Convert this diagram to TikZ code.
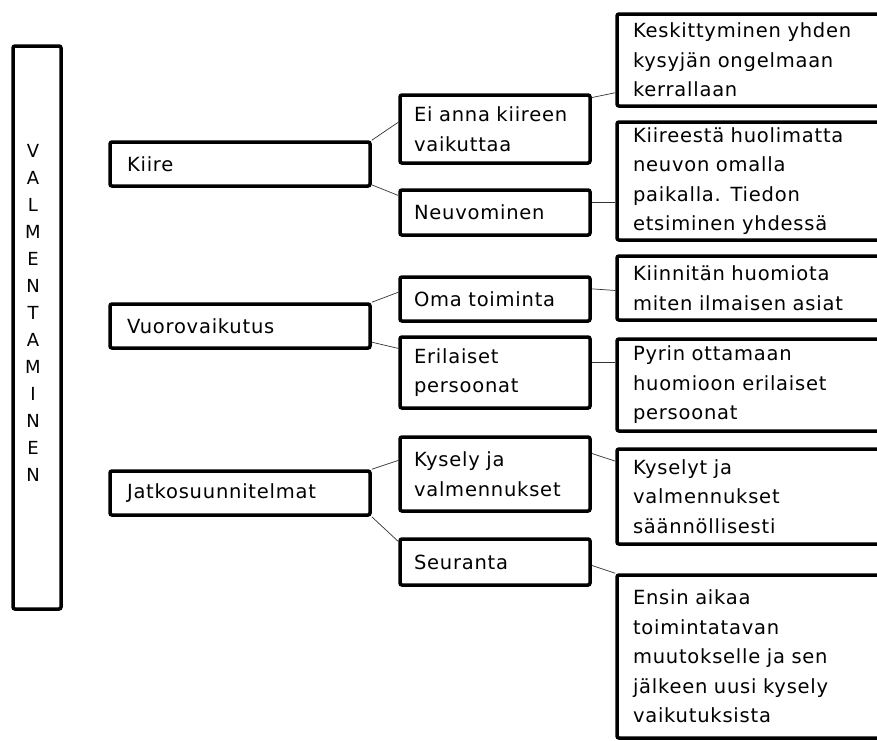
\documentclass[tikz,border=0pt]{standalone}
\usepackage{fontspec}
\setmainfont[LetterSpace=4]{DejaVu Sans}

\begin{document}
\begin{tikzpicture}[x=1pt,y=-1pt,
  box/.style={draw,line width=3.5pt,rounded corners=2pt,align=left,inner ysep=0pt,
    font=\fontsize{19.5}{29.5}\selectfont},
  rootbox/.style={box,inner xsep=17pt,text width=226,minimum height=44},
  midbox/.style={box,inner xsep=14pt,text width=162},
  leafbox/.style={box,inner xsep=16pt,text width=248},
  link/.style={draw=black!80,line width=0.7pt}]
\clip (0,0) rectangle (877,740);
% title column
\node[box,minimum width=48,minimum height=563] (valm) at (37,327.5) {};
\node[align=center,font=\fontsize{18}{27}\selectfont] (valmtext) at (33,313)
  {V\\A\\L\\M\\E\\N\\T\\A\\M\\I\\N\\E\\N};
% first level
\node[rootbox] (kiire) at (240,164) {Kiire};
\node[rootbox] (vuoro) at (240,326) {Vuorovaikutus};
\node[rootbox] (jatko) at (240,493) {Jatkosuunnitelmat};
% second level
\node[midbox,minimum height=68] (ei) at (495,129) {Ei anna kiireen\\vaikuttaa};
\node[midbox,minimum height=45] (neuv) at (495,212.5) {Neuvominen};
\node[midbox,minimum height=44] (oma) at (495,299) {Oma toiminta};
\node[midbox,minimum height=71] (eril) at (495,372.5) {Erilaiset\\persoonat};
\node[midbox,minimum height=74] (kysely) at (495,474) {Kysely ja\\valmennukset};
\node[midbox,minimum height=46] (seur) at (495,562) {Seuranta};
% third level
\node[leafbox,minimum height=92] (kesk) at (757,60) {Keskittyminen yhden\\kysyjän ongelmaan\\kerrallaan};
\node[leafbox,minimum height=118] (kiir) at (757,181) {Kiireestä huolimatta\\neuvon omalla\\paikalla. Tiedon\\etsiminen yhdessä};
\node[leafbox,minimum height=64] (kiinn) at (757,288) {Kiinnitän huomiota\\miten ilmaisen asiat};
\node[leafbox,minimum height=92] (pyrin) at (757,385) {Pyrin ottamaan\\huomioon erilaiset\\persoonat};
\node[leafbox,minimum height=95] (kyselyt) at (757,496.5) {Kyselyt ja\\valmennukset\\säännöllisesti};
\node[leafbox,minimum height=163] (ensin) at (757,656.5) {Ensin aikaa\\toimintatavan\\muutokselle ja sen\\jälkeen uusi kysely\\vaikutuksista};
% connectors
\draw[link] (kiire.north east) -- (ei.176);
\draw[link] (kiire.351) -- (neuv.170);
\draw[link] (vuoro.north east) -- (oma.176);
\draw[link] (vuoro.353) -- (eril.166);
\draw[link] (jatko.north east) -- (kysely.172);
\draw[link] (jatko.south east) -- (seur.168);
\draw[link] (ei.18) -- (kesk.193);
\draw[link] (neuv.6) -- (neuv.6 -| kiir.west);
\draw[link] (oma.6) -- (kiinn.181);
\draw[link] (eril.6) -- (eril.6 -| pyrin.west);
\draw[link] (kysely.12) -- (kyselyt.166);
\draw[link] (seur.358) -- (ensin.north west);
\end{tikzpicture}
\end{document}
